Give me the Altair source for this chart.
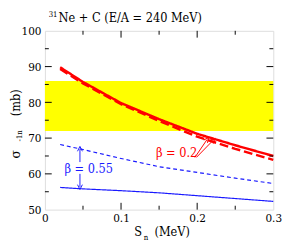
import altair as alt
import pandas as pd

# ---- data ----
s_vals = [0.02, 0.05, 0.1, 0.15, 0.2, 0.25, 0.3]
red_solid = [89.8, 85.7, 79.8, 75.3, 71.2, 68.0, 65.0]
red_dashed = [89.3, 85.3, 79.5, 74.8, 70.4, 67.0, 63.9]
blue_dashed = [68.2, 66.8, 64.3, 62.0, 60.4, 58.8, 57.3]
blue_solid = [56.2, 55.8, 55.3, 54.7, 53.9, 53.1, 52.3]

band_lo, band_hi = 72, 86
x_dom = [0, 0.3]
y_dom = [50, 100]
x_major = [0.1, 0.2]
x_minor = [0.05, 0.15, 0.25]
y_major = [60, 70, 80, 90]
y_minor = [55, 65, 75, 85, 95]

W, H = 235, 184
FONT = "DejaVu Serif Condensed, DejaVu Serif"
RED = "#ff0000"
BLUE = "#1a1aff"

xs = alt.Scale(domain=x_dom, nice=False, zero=False)
ys = alt.Scale(domain=y_dom, nice=False, zero=False)

def X(f):
    return alt.X(f, scale=xs, title=None)

def Y(f):
    return alt.Y(f, scale=ys, title=None)

def line(vals, color, width, dash):
    df = pd.DataFrame({"s": s_vals, "v": vals})
    return alt.Chart(df).mark_line(color=color, strokeWidth=width, strokeDash=dash).encode(
        x=X("s:Q"), y=Y("v:Q"))

band = alt.Chart(pd.DataFrame({"x": [x_dom[0]], "x2": [x_dom[1]], "y": [band_lo], "y2": [band_hi]})).mark_rect(
    color="#ffff00").encode(x=X("x:Q"), x2="x2:Q", y=Y("y:Q"), y2="y2:Q")

def xticks(vals, L):
    df = pd.DataFrame({"t": vals})
    b = alt.Chart(df).mark_rule(color="black", strokeWidth=1).encode(
        x=X("t:Q"), y=alt.value(H), y2=alt.value(H - L))
    t = alt.Chart(df).mark_rule(color="black", strokeWidth=1).encode(
        x=X("t:Q"), y=alt.value(0), y2=alt.value(L))
    return b + t

def yticks(vals, L):
    df = pd.DataFrame({"t": vals})
    l = alt.Chart(df).mark_rule(color="black", strokeWidth=1).encode(
        y=Y("t:Q"), x=alt.value(0), x2=alt.value(L))
    r = alt.Chart(df).mark_rule(color="black", strokeWidth=1).encode(
        y=Y("t:Q"), x=alt.value(W), x2=alt.value(W - L))
    return l + r

# annotations
b055 = pd.DataFrame({"s": [0.0575], "v": [61.2], "t": ["β = 0.55"]})
b02 = pd.DataFrame({"s": [0.173], "v": [65.8], "t": ["β = 0.2"]})
blue_arrows = pd.DataFrame({"s": [0.046, 0.046], "v": [63.3, 60.0], "s2": [0.046, 0.046], "v2": [67.0, 56.3],
                            "ang": [0, 180]})
red_arrows = pd.DataFrame({"s": [0.197, 0.199], "v": [64.6, 64.6], "s2": [0.213, 0.221], "v2": [69.6, 69.4],
                           "ang": [38, 46]})

def text(df, color):
    return alt.Chart(df).mark_text(font=FONT, fontSize=13, color=color, align="center", baseline="middle").encode(
        x=X("s:Q"), y=Y("v:Q"), text="t:N")

def arrows(df, color):
    shaft = alt.Chart(df).mark_rule(color=color, strokeWidth=1).encode(
        x=X("s:Q"), y=Y("v:Q"), x2="s2:Q", y2="v2:Q")
    head = alt.Chart(df).mark_point(shape="M-1,1L0,-1L1,1", filled=False, color=color, size=25,
                                    strokeWidth=1, opacity=1).encode(
        x=X("s2:Q"), y=Y("v2:Q"), angle=alt.Angle("ang:Q", scale=None))
    return shaft + head

one = pd.DataFrame({"a": [0]})

def label(txt, x, y, size, angle=0, align="center", baseline="alphabetic"):
    return alt.Chart(one).mark_text(text=txt, font=FONT, fontSize=size, color="black", angle=angle,
                                    align=align, baseline=baseline).encode(x=alt.value(x), y=alt.value(y))

title = label("Ne + C (E/A = 240 MeV)", 14, -9, 13, align="left") + label("31", 13, -14, 8, align="right")
ylab = (label("σ", -30, 127, 14, angle=270, baseline="middle")
        + label("-1n", -26, 108, 8, angle=270, baseline="middle")
        + label("(mb)", -30, 74, 13, angle=270, baseline="middle"))
xlab = (label("S", 96, 211, 13) + label("n", 104, 215, 8) + label("(MeV)", 131, 211, 13))

chart = alt.layer(
    band,
    line(red_solid, RED, 2.5, [1, 0]),
    line(red_dashed, RED, 2.5, [9, 4]),
    line(blue_dashed, BLUE, 1.2, [4, 3]),
    line(blue_solid, BLUE, 1.2, [1, 0]),
    xticks(x_major, 7), xticks(x_minor, 4), yticks(y_major, 7), yticks(y_minor, 4),
    text(b055, BLUE), text(b02, RED), arrows(blue_arrows, BLUE), arrows(red_arrows, RED),
    title, ylab, xlab,
).properties(
    width=W, height=H, autosize=alt.AutoSizeParams(type="none"),
    padding={"left": 38, "top": 20, "right": 10, "bottom": 36},
).configure_view(stroke="black", strokeWidth=1.2).configure(background="white").configure_axis(
    ticks=False, domain=False, grid=False, labelFont=FONT, labelFontSize=12, labelColor="black",
    labelOverlap=False, labelFlush=False, labelBound=False,
).configure_axisX(
    tickCount=3, labelPadding=3,
    labelExpr="abs(datum.value * 10 - round(datum.value * 10)) > 0.001 ? '' : (datum.value == 0 ? '0' : format(datum.value, '.1f'))",
).configure_axisY(
    tickCount=5, labelPadding=4,
)

chart.save("out.html", embed_options={"renderer": "svg", "actions": False})
